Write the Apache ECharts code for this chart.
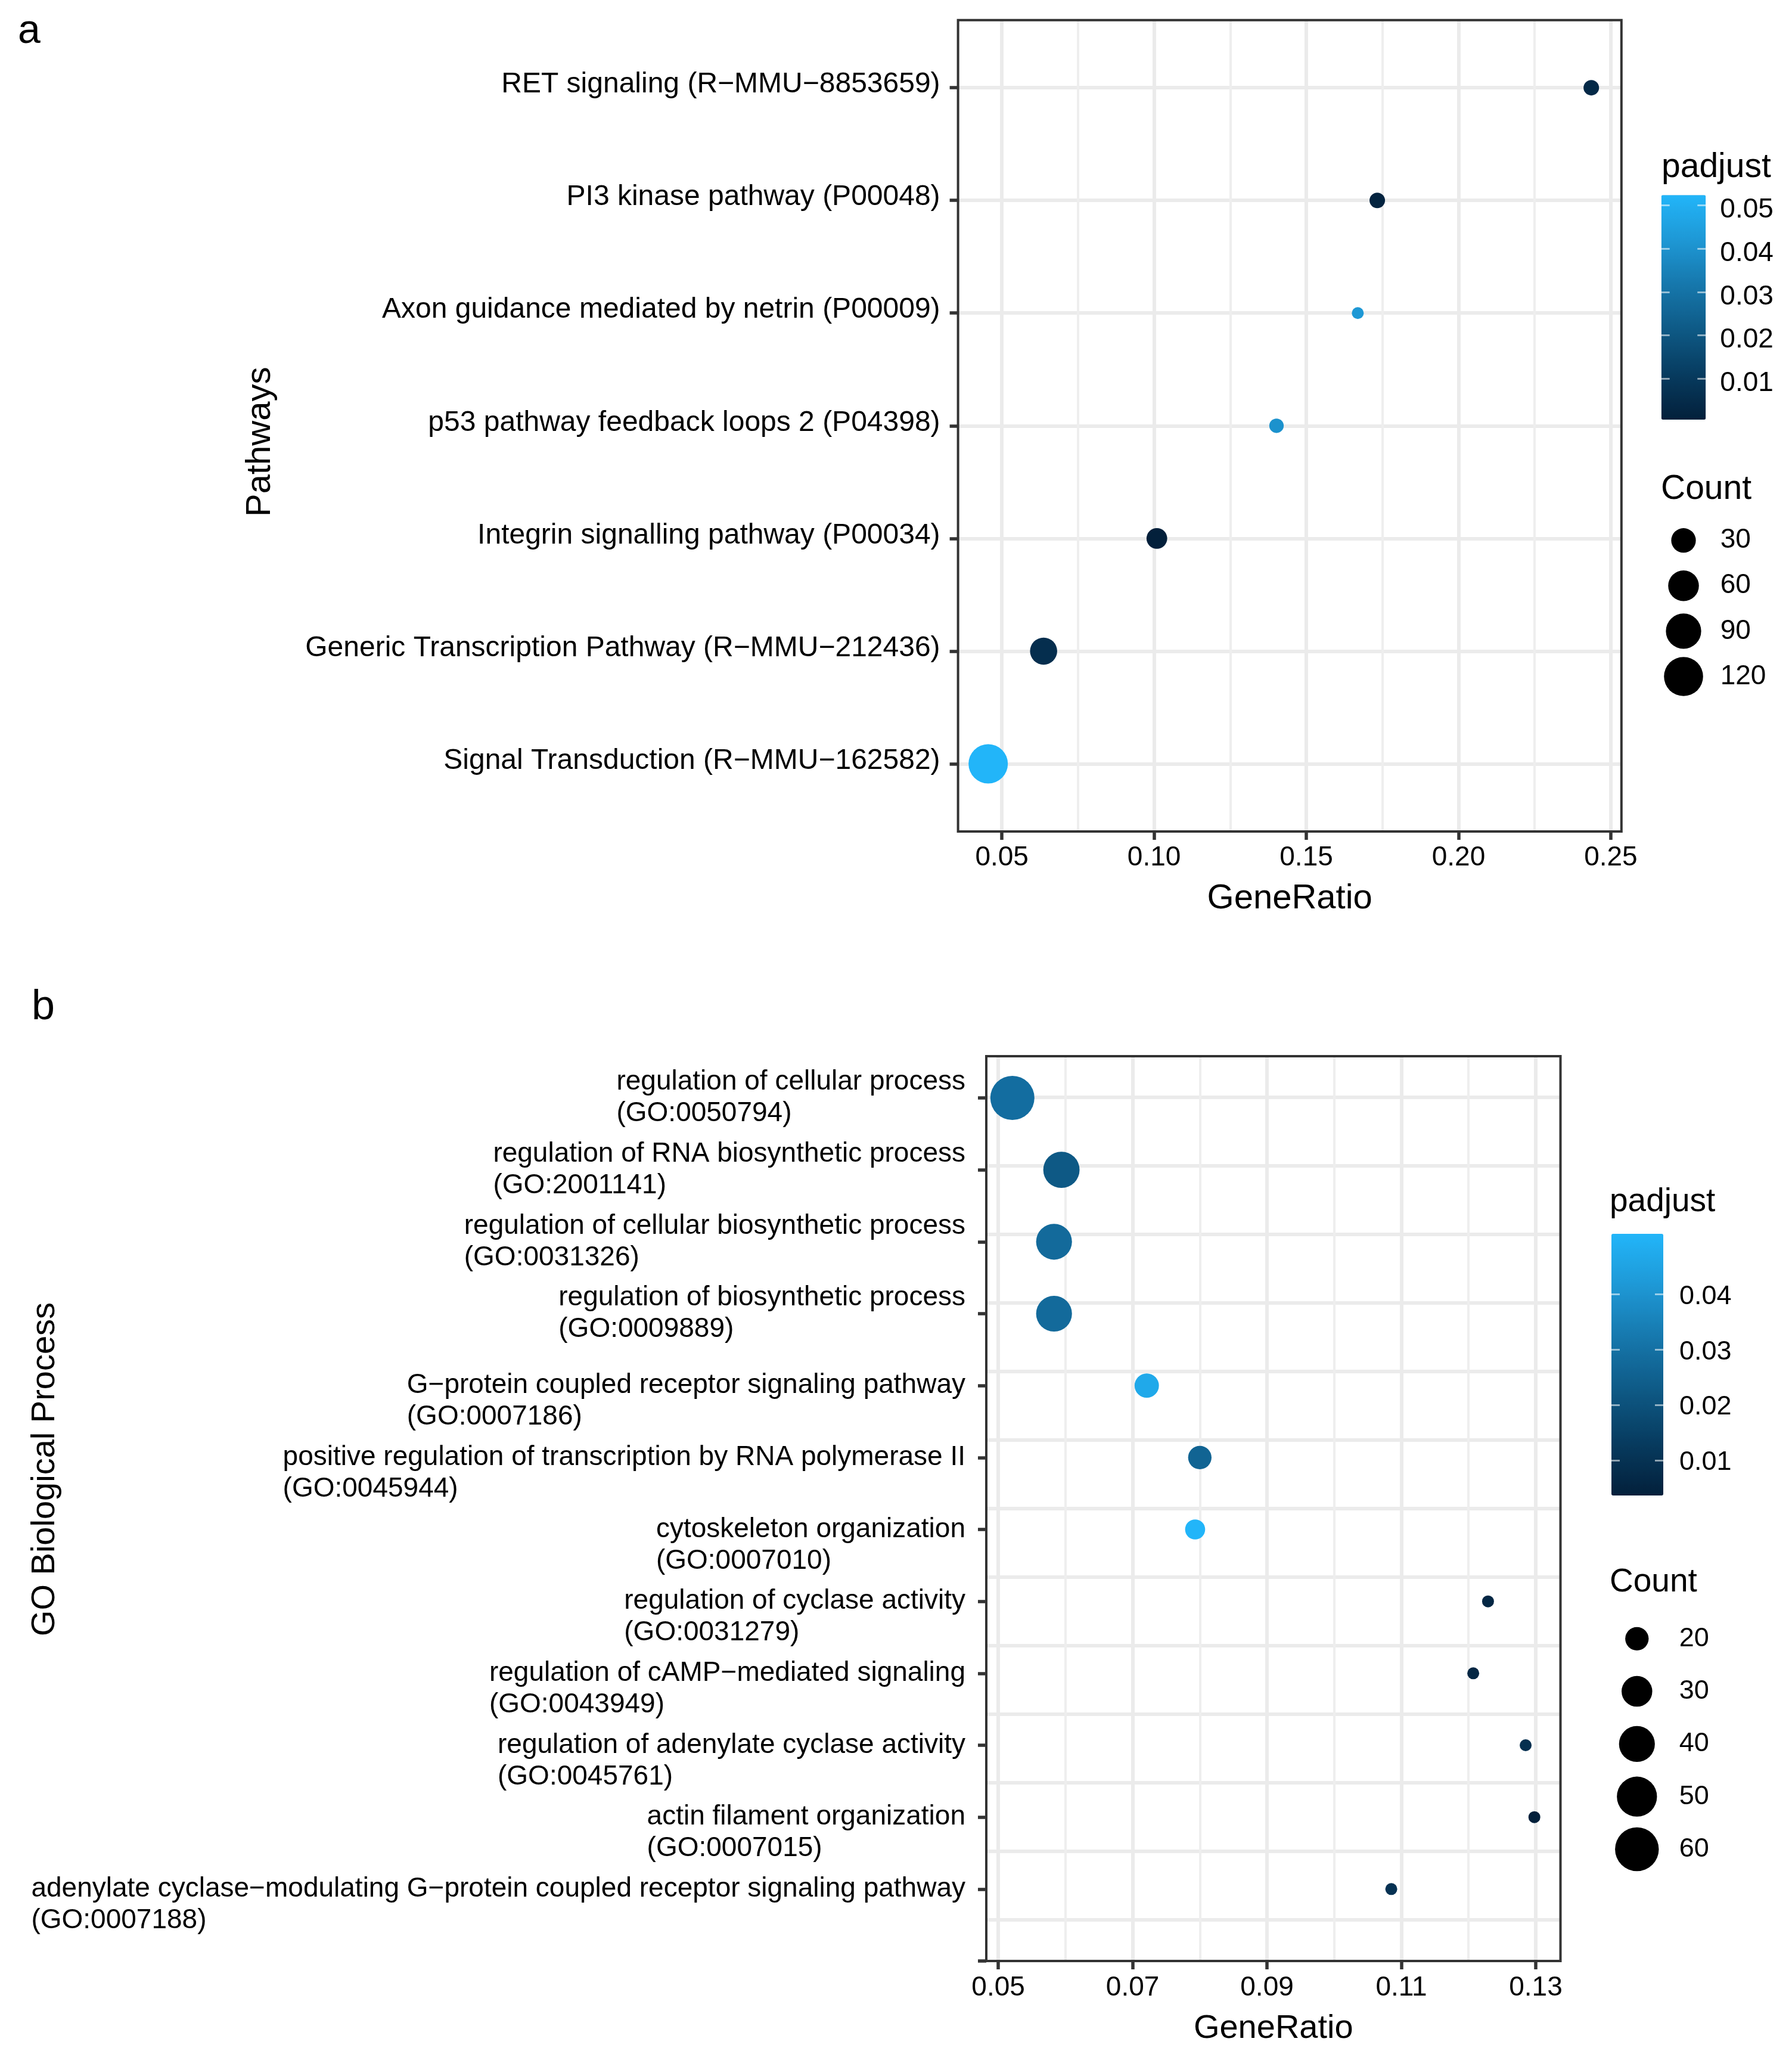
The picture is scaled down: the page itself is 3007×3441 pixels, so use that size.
<!DOCTYPE html>
<html>
<head>
<meta charset="utf-8">
<script src="https://cdn.jsdelivr.net/npm/echarts@6/dist/echarts.min.js"></script>
<style>
html,body{margin:0;padding:0;background:#fff;}
#chart{width:3007px;height:3441px;}
</style>
</head>
<body>
<div id="chart"></div>
<script>
// ---------------- DATA ----------------
const pathways = [
  'RET signaling (R\u2212MMU\u22128853659)',
  'PI3 kinase pathway (P00048)',
  'Axon guidance mediated by netrin (P00009)',
  'p53 pathway feedback loops 2 (P04398)',
  'Integrin signalling pathway (P00034)',
  'Generic Transcription Pathway (R\u2212MMU\u2212212436)',
  'Signal Transduction (R\u2212MMU\u2212162582)'
];
const pathwayRatio = [0.2436, 0.1733, 0.1669, 0.1402, 0.1009, 0.0637, 0.0455];
const pathwayCount = [7, 7, 5, 6, 17, 41, 122];
const pathwayPadj  = [0.004, 0.002, 0.042, 0.040, 0.0005, 0.006, 0.0524];

const goTerms = [
  'regulation of cellular process',
  'regulation of RNA biosynthetic process',
  'regulation of cellular biosynthetic process',
  'regulation of biosynthetic process',
  'G\u2212protein coupled receptor signaling pathway',
  'positive regulation of transcription by RNA polymerase II',
  'cytoskeleton organization',
  'regulation of cyclase activity',
  'regulation of cAMP\u2212mediated signaling',
  'regulation of adenylate cyclase activity',
  'actin filament organization',
  'adenylate cyclase\u2212modulating G\u2212protein coupled receptor signaling pathway'
];
const goIds = ['GO:0050794','GO:2001141','GO:0031326','GO:0009889','GO:0007186','GO:0045944',
               'GO:0007010','GO:0031279','GO:0043949','GO:0045761','GO:0007015','GO:0007188'];
const goRatio = [0.0521, 0.0594, 0.0583, 0.0583, 0.0721, 0.0800, 0.0793, 0.1229, 0.1207, 0.1285, 0.1298, 0.1085];
const goCount = [61, 41, 40, 40, 21, 20, 17, 14, 14, 14, 14, 14];
const goPadj  = [0.029, 0.0226, 0.028, 0.028, 0.047, 0.026, 0.0509, 0.006, 0.006, 0.009, 0.00365, 0.010];

const ratioTicksA = [0.05, 0.10, 0.15, 0.20, 0.25];
const ratioMinorA = [0.075, 0.125, 0.175, 0.225];
const ratioTicksB = [0.05, 0.07, 0.09, 0.11, 0.13];
const ratioMinorB = [0.06, 0.08, 0.10, 0.12];
const padjTicksA = [0.01, 0.02, 0.03, 0.04, 0.05];
const padjTicksB = [0.01, 0.02, 0.03, 0.04];
const countLegendA = [30, 60, 90, 120];
const countLegendB = [20, 30, 40, 50, 60];

// ---------------- STYLE / LAYOUT ----------------
const FONT = "'Liberation Sans', Arial, Helvetica, sans-serif";
const GRAD = ['#03203B', '#073B5F', '#0E5985', '#1677AC', '#1E98D5', '#22B5F9'];
const INK = '#000';
const FRAME = '#333333';
const GRID_MAJOR = {color: '#EBEBEB', width: 6};
const GRID_MINOR = {color: '#EEEEEE', width: 4};
const TICK = {show: true, length: 14, lineStyle: {color: FRAME, width: 5.5}};
const NOLINE = {show: false, onZero: false};
const CB_TICK = {color: 'rgba(255,255,255,0.55)', width: 3};

const PA = {left: 1607.6, top: 33.7, width: 1113.2, height: 1361.2};
const PB = {left: 1655, top: 1772, width: 963.5, height: 1518};
const CBA = {left: 2787.7, top: 327.3, width: 74.6, height: 376.7};
const CBB = {left: 2704, top: 2070, width: 87, height: 439};
const LGA = {cx: 2825, y0: 906.7, step: 76.1, labelX: 2886.7};
const LGB = {cx: 2746.8, y0: 2749.3, step: 88.3, labelX: 2817.7};
const goBlockCentered = 4;   // first labels whose two-line block is centred on the tick
const goGridRows = 13;       // horizontal grid rows drawn in panel b

function expand(arr, f) {
  const mn = Math.min(...arr), mx = Math.max(...arr), d = (mx - mn) * f;
  return [mn - d, mx + d];
}
function sizeScale(counts, dmin, dmax) {
  const mn = Math.min(...counts), mx = Math.max(...counts);
  return c => dmin + (dmax - dmin) * Math.sqrt(Math.max(0, c - mn) / (mx - mn));
}
const sizeA = sizeScale(pathwayCount, 20, 66);
const sizeB = sizeScale(goCount, 20, 74);
const xRangeA = expand(pathwayRatio, 0.05);
const xRangeB = expand(goRatio, 0.05);
const idxA = pathways.map((_, i) => i);
const idxB = goTerms.map((_, i) => i);
const tickB = idxB.concat([goTerms.length]);
const gridRowsB = Array.from({length: goGridRows}, (_, i) => i);

const txt = (size, extra) => Object.assign({fontSize: size, fontFamily: FONT, color: INK, fontWeight: 'normal', lineHeight: size}, extra || {});

const richB = {};
goTerms.forEach((_, i) => {
  richB['g' + i] = {align: 'left', fontSize: 46, lineHeight: 53, fontFamily: FONT, color: INK};
});
const richA = {p: {fontSize: 48, lineHeight: 48, fontFamily: FONT, color: INK, padding: [0, 0, 10, 0]}};
const richCbA = {v: {fontSize: 46, lineHeight: 46, fontFamily: FONT, color: INK, padding: [16, 0, 0, 0]}};
const richCbB = {v: {fontSize: 45, lineHeight: 45, fontFamily: FONT, color: INK, padding: [8, 0, 0, 0]}};

const chart = echarts.init(document.getElementById('chart'), null, {renderer: 'canvas'});

const hiddenX = (gi) => ({gridIndex: gi, type: 'value', min: -1, max: 1, show: false, axisLine: NOLINE});

const option = {
  animation: false,
  backgroundColor: '#fff',
  title: [
    {text: 'a', left: 30, top: 19, padding: 0, textStyle: txt(68)},
    {text: 'b', left: 53, top: 1656, padding: 0, textStyle: txt(70)},
    {text: 'padjust', left: 2788, top: 253, padding: 0, textStyle: txt(57)},
    {text: 'Count', left: 2787, top: 793, padding: 0, textStyle: txt(57)},
    {text: 'padjust', left: 2701, top: 1989, padding: 0, textStyle: txt(55)},
    {text: 'Count', left: 2701, top: 2627, padding: 0, textStyle: txt(55)}
  ],
  grid: [
    Object.assign({show: true, borderColor: FRAME, borderWidth: 4, z: 5, backgroundColor: 'transparent'}, PA),
    Object.assign({show: true, borderColor: FRAME, borderWidth: 4, z: 5, backgroundColor: 'transparent'}, PB),
    Object.assign({show: false}, CBA),
    {show: false, left: LGA.cx - 35, width: 70, top: LGA.y0 - LGA.step / 2, height: LGA.step * countLegendA.length},
    Object.assign({show: false}, CBB),
    {show: false, left: LGB.cx - 35, width: 70, top: LGB.y0 - LGB.step / 2, height: LGB.step * countLegendB.length}
  ],
  xAxis: [
    { // 0 panel a main
      gridIndex: 0, type: 'value', min: xRangeA[0], max: xRangeA[1], position: 'bottom',
      name: 'GeneRatio', nameLocation: 'middle', nameGap: 84, nameTextStyle: txt(58), nameMoveOverlap: false,
      axisLine: NOLINE,
      axisTick: Object.assign({customValues: ratioTicksA}, TICK),
      axisLabel: {customValues: ratioTicksA, formatter: v => v.toFixed(2), margin: 21, fontSize: 46, lineHeight: 46, fontFamily: FONT, color: INK, showMinLabel: true, showMaxLabel: true},
      splitLine: {show: true, lineStyle: GRID_MAJOR}
    },
    { // 1 panel a minor grid
      gridIndex: 0, type: 'value', min: xRangeA[0], max: xRangeA[1], position: 'bottom',
      axisLine: NOLINE, axisTick: {show: false, customValues: ratioMinorA}, axisLabel: {show: false},
      splitLine: {show: true, lineStyle: GRID_MINOR}
    },
    { // 2 panel b main
      gridIndex: 1, type: 'value', min: xRangeB[0], max: xRangeB[1], position: 'bottom',
      name: 'GeneRatio', nameLocation: 'middle', nameGap: 86, nameTextStyle: txt(56), nameMoveOverlap: false,
      axisLine: NOLINE,
      axisTick: Object.assign({customValues: ratioTicksB}, TICK),
      axisLabel: {customValues: ratioTicksB, formatter: v => v.toFixed(2), margin: 22, fontSize: 46, lineHeight: 46, fontFamily: FONT, color: INK, showMinLabel: true, showMaxLabel: true},
      splitLine: {show: true, lineStyle: GRID_MAJOR}
    },
    { // 3 panel b minor grid
      gridIndex: 1, type: 'value', min: xRangeB[0], max: xRangeB[1], position: 'bottom',
      axisLine: NOLINE, axisTick: {show: false, customValues: ratioMinorB}, axisLabel: {show: false},
      splitLine: {show: true, lineStyle: GRID_MINOR}
    },
    hiddenX(2), hiddenX(3), hiddenX(4), hiddenX(5)
  ],
  yAxis: [
    { // 0 panel a
      gridIndex: 0, type: 'value', inverse: true, min: -0.6, max: pathways.length - 1 + 0.6, position: 'left',
      name: 'Pathways', nameLocation: 'middle', nameRotate: 90, nameGap: 1142, nameMoveOverlap: false,
      nameTextStyle: txt(58, {padding: [0, 54, 0, 0]}),
      axisLine: NOLINE,
      axisTick: Object.assign({customValues: idxA}, TICK),
      axisLabel: {customValues: idxA, formatter: v => '{p|' + pathways[Math.round(v)] + '}', rich: richA,
                  margin: 30, fontSize: 48, fontFamily: FONT, color: INK, showMinLabel: true, showMaxLabel: true},
      splitLine: {show: true, lineStyle: GRID_MAJOR}
    },
    { // 1 panel b labels/ticks
      gridIndex: 1, type: 'value', inverse: true, min: -0.58, max: goTerms.length, position: 'left',
      name: 'GO Biological Process', nameLocation: 'middle', nameRotate: 90, nameGap: 1551, nameMoveOverlap: false,
      nameTextStyle: txt(56, {padding: [0, 0, 0, 132]}),
      axisLine: NOLINE,
      axisTick: Object.assign({customValues: tickB}, TICK),
      axisLabel: {
        customValues: tickB, margin: 35, fontSize: 46, fontFamily: FONT, color: INK, rich: richB,
        showMinLabel: true, showMaxLabel: true, hideOverlap: false,
        formatter: v => {
          const i = Math.round(v);
          if (i >= goTerms.length) return '';
          const k = 'g' + i;
          const pre = i >= goBlockCentered ? '{' + k + '|\u00a0}\n' : '';
          return pre + '{' + k + '|' + goTerms[i] + '}\n{' + k + '|(' + goIds[i] + ')}';
        }
      },
      splitLine: {show: false}
    },
    { // 2 panel b horizontal grid
      gridIndex: 1, type: 'value', inverse: true, min: -0.6, max: goGridRows - 1 + 0.6, position: 'left',
      axisLine: NOLINE, axisTick: {show: false, customValues: gridRowsB}, axisLabel: {show: false},
      splitLine: {show: true, lineStyle: GRID_MAJOR}
    },
    { // 3 colorbar a labels (right)
      gridIndex: 2, type: 'value', min: Math.min(...pathwayPadj), max: Math.max(...pathwayPadj), position: 'right', z: 10,
      axisLine: NOLINE,
      axisTick: {show: true, inside: true, length: 14, customValues: padjTicksA, lineStyle: CB_TICK},
      axisLabel: {customValues: padjTicksA, formatter: v => '{v|' + v.toFixed(2) + '}', rich: richCbA, margin: 24,
                  fontSize: 46, fontFamily: FONT, color: INK, showMinLabel: true, showMaxLabel: true},
      splitLine: {show: false}
    },
    { // 4 colorbar a ticks (left)
      gridIndex: 2, type: 'value', min: Math.min(...pathwayPadj), max: Math.max(...pathwayPadj), position: 'left', z: 10,
      axisLine: NOLINE,
      axisTick: {show: true, inside: true, length: 14, customValues: padjTicksA, lineStyle: CB_TICK},
      axisLabel: {show: false}, splitLine: {show: false}
    },
    { // 5 count legend a
      gridIndex: 3, type: 'category', inverse: true, position: 'right', data: countLegendA.map(String),
      axisLine: NOLINE, axisTick: {show: false},
      axisLabel: {margin: LGA.labelX - (LGA.cx + 35), fontSize: 46, fontFamily: FONT, color: INK, interval: 0},
      splitLine: {show: false}
    },
    { // 6 colorbar b labels (right)
      gridIndex: 4, type: 'value', min: Math.min(...goPadj), max: Math.max(...goPadj), position: 'right', z: 10,
      axisLine: NOLINE,
      axisTick: {show: true, inside: true, length: 14, customValues: padjTicksB, lineStyle: CB_TICK},
      axisLabel: {customValues: padjTicksB, formatter: v => '{v|' + v.toFixed(2) + '}', rich: richCbB, margin: 27,
                  fontSize: 45, fontFamily: FONT, color: INK, showMinLabel: true, showMaxLabel: true},
      splitLine: {show: false}
    },
    { // 7 colorbar b ticks (left)
      gridIndex: 4, type: 'value', min: Math.min(...goPadj), max: Math.max(...goPadj), position: 'left', z: 10,
      axisLine: NOLINE,
      axisTick: {show: true, inside: true, length: 14, customValues: padjTicksB, lineStyle: CB_TICK},
      axisLabel: {show: false}, splitLine: {show: false}
    },
    { // 8 count legend b
      gridIndex: 5, type: 'category', inverse: true, position: 'right', data: countLegendB.map(String),
      axisLine: NOLINE, axisTick: {show: false},
      axisLabel: {margin: LGB.labelX - (LGB.cx + 35), fontSize: 45, fontFamily: FONT, color: INK, interval: 0},
      splitLine: {show: false}
    }
  ],
  visualMap: [
    {
      type: 'continuous', seriesIndex: 0, dimension: 3,
      min: Math.min(...pathwayPadj), max: Math.max(...pathwayPadj),
      inRange: {color: GRAD}, calculable: false, hoverLink: false, padding: 0,
      left: CBA.left, top: CBA.top, itemWidth: CBA.width, itemHeight: CBA.height,
      orient: 'vertical', text: null, showLabel: false
    },
    {
      type: 'continuous', seriesIndex: 1, dimension: 3,
      min: Math.min(...goPadj), max: Math.max(...goPadj),
      inRange: {color: GRAD}, calculable: false, hoverLink: false, padding: 0,
      left: CBB.left, top: CBB.top, itemWidth: CBB.width, itemHeight: CBB.height,
      orient: 'vertical', text: null, showLabel: false
    }
  ],
  series: [
    {
      type: 'scatter', xAxisIndex: 0, yAxisIndex: 0, z: 3,
      data: pathways.map((p, i) => [pathwayRatio[i], i, pathwayCount[i], pathwayPadj[i], p]),
      symbolSize: v => sizeA(v[2]), itemStyle: {opacity: 1}
    },
    {
      type: 'scatter', xAxisIndex: 2, yAxisIndex: 1, z: 3,
      data: goTerms.map((t, i) => [goRatio[i], i, goCount[i], goPadj[i], t]),
      symbolSize: v => sizeB(v[2]), itemStyle: {opacity: 1}
    },
    {
      type: 'scatter', xAxisIndex: 5, yAxisIndex: 5,
      data: countLegendA.map(c => [0, String(c), c]),
      symbolSize: v => sizeA(v[2]), itemStyle: {color: '#000', opacity: 1}
    },
    {
      type: 'scatter', xAxisIndex: 7, yAxisIndex: 8,
      data: countLegendB.map(c => [0, String(c), c]),
      symbolSize: v => sizeB(v[2]), itemStyle: {color: '#000', opacity: 1}
    }
  ]
};
chart.setOption(option);
</script>
</body>
</html>
